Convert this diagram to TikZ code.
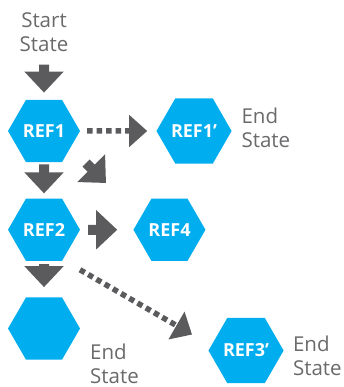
\documentclass[tikz,border=0pt]{standalone}
\usepackage{fontspec}
\setmainfont{Open Sans}
\usepackage{xcolor}
\usetikzlibrary{arrows.meta,positioning,shapes.geometric}
\definecolor{hexblue}{HTML}{00ADEF}
\definecolor{arrgray}{HTML}{5B5B5D}
\definecolor{txtgray}{HTML}{6A6A6C}

\begin{document}
\begin{tikzpicture}[
  x=1pt, y=-1pt,
  hex/.style={regular polygon, regular polygon sides=6, minimum size=72pt, inner sep=0pt,
    fill=hexblue, text=white, font=\fontsize{18}{20}\selectfont\bfseries},
  lbl/.style={align=left, inner sep=0pt, text=txtgray, font=\fontsize{20.5}{24}\selectfont},
  arr/.style={-{Triangle[width=38pt,length=21pt]}, line width=10pt, draw=arrgray},
  dotarr/.style={-{Triangle[width=31pt,length=18pt]}, line width=5.5pt,
    dash pattern=on 5.5pt off 4pt, draw=arrgray}
]
\useasboundingbox (0,0) rectangle (343,387);

\node[hex] (ref1) at (44,131) {REF1};
\node[hex, right=76pt of ref1] (ref1p) {REF1’};
\node[hex, below=36pt of ref1] (ref2) {REF2};
\node[hex, right=53pt of ref2] (ref4) {REF4};
\node[hex, below=36pt of ref2] (ref3) {};
\node[hex, right=128pt of ref3, yshift=-22pt] (ref3p) {REF3’};

\node[lbl, align=center, above=48pt of ref1] (start) {Start\\State};
\node[lbl, right=9.5pt of ref1p, yshift=3pt] (end1) {End\\State};
\node[lbl, right=23pt of ref3.south east, anchor=north west, yshift=8pt] (end3) {End\\State};
\node[lbl, right=9pt of ref3p, yshift=-5pt] (end3p) {End\\State};

\draw[arr, shorten <=13pt, shorten >=7pt] (start) -- (ref1);
\draw[arr, shorten <=2pt, shorten >=5pt] (ref1) -- (ref2);
\draw[arr, shorten <=3pt, shorten >=10pt] (ref2) -- (ref3);
\draw[arr, shorten <=8pt, shorten >=16pt] (ref2) -- (ref4);
\draw[dotarr, shorten <=7pt, shorten >=9pt] (ref1) -- (ref1p);
\draw[arr] ([shift={(42,32)}]ref1.center) -- ([shift={(62,52)}]ref1.center);
\draw[dotarr] ([shift={(36,40)}]ref2.center) -- ([shift={(-54,-16)}]ref3p.center);
\end{tikzpicture}
\end{document}
